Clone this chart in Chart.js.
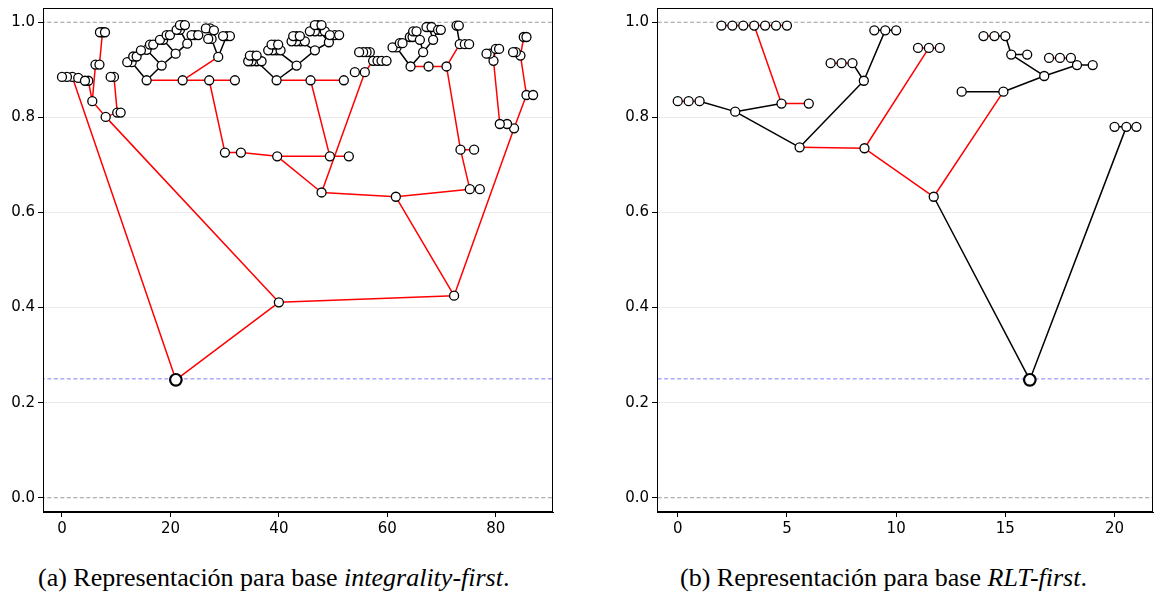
<!DOCTYPE html>
<html><head><meta charset="utf-8">
<script src="https://cdn.jsdelivr.net/npm/chart.js@4.4.1/dist/chart.umd.min.js"></script>
<style>
html,body{margin:0;padding:0;background:#fff;width:1161px;height:594px;overflow:hidden;position:relative}
canvas{position:absolute;top:0}
#ca{left:0}
#cb{left:614px}
.cap{position:absolute;top:563px;line-height:30px;font-family:"Liberation Serif","DejaVu Serif",serif;font-size:26px;color:#000;white-space:nowrap}
</style></head><body>
<canvas id="ca" width="580" height="548"></canvas>
<canvas id="cb" width="547" height="548"></canvas>
<div class="cap" id="capa" style="left:38px">(a) Representación para base <i>integrality-first</i>.</div>
<div class="cap" id="capb" style="left:680px">(b) Representación para base <i>RLT-first</i>.</div>
<script>
// ---------- (a) integrality-first tree ----------
// node x position, node bound (y), parent node index, branch kind of the edge to the parent ('r' red / 'k' black)
const leftX = [21.0,40.0,1.9,0.92,0.0,3.0,8.06,5.59,4.85,4.24,6.18,6.91,7.47,7.0,7.93,10.19,10.82,9.59,8.98,
  72.31,61.57,83.37,47.87,75.21,77.05,73.49,76.0,70.91,67.6,64.28,73.36,74.29,75.08,72.76,73.18,
  61.7,60.96,62.3,62.8,64.15,64.65,64.76,65.38,66.6,68.44,66.0,67.7,67.22,68.15,69.36,69.86,
  82.08,80.74,79.58,78.89,78.29,80.0,80.61,85.66,86.88,84.55,83.69,83.19,85.16,85.66,
  39.69,33.0,30.05,27.15,22.25,31.89,15.61,28.81,49.4,52.9,45.84,39.58,51.98,
  55.85,54.01,57.38,58.19,58.93,59.85,56.77,56.17,55.54,54.8,
  18.38,12.85,12.04,13.14,13.77,15.61,16.22,16.83,14.56,20.96,18.67,18.06,19.3,19.91,23.1,21.75,21.14,22.25,21.75,22.67,24.52,23.9,25.13,
  27.59,26.97,27.28,26.54,28.02,30.36,30.97,29.7,
  35.89,34.97,34.34,36.81,35.26,34.65,35.89,43.26,39.58,38.84,38.03,40.31,39.26,38.65,39.87,
  46.64,44.0,43.2,42.34,44.79,43.26,42.64,43.87,49.22,47.56,46.64,45.71,48.48,47.24,46.64,47.86,50.32,49.4,51.11];
const leftY = [0.248,0.411,0.885,0.885,0.885,0.883,0.801,0.834,0.877,0.877,0.911,0.911,0.979,0.979,0.979,0.810,0.810,0.885,0.885,
  0.425,0.633,0.777,0.642,0.649,0.649,0.732,0.732,0.907,0.907,0.907,0.954,0.954,0.954,0.993,0.993,
  0.947,0.947,0.956,0.956,0.969,0.969,0.981,0.981,0.937,0.963,0.963,0.990,0.990,0.990,0.984,0.984,
  0.786,0.786,0.919,0.934,0.934,0.944,0.944,0.847,0.847,0.930,0.937,0.937,0.969,0.969,
  0.718,0.726,0.726,0.878,0.878,0.878,0.878,0.927,0.718,0.718,0.878,0.878,0.878,
  0.895,0.895,0.919,0.919,0.919,0.919,0.937,0.937,0.937,0.937,
  0.909,0.916,0.916,0.928,0.928,0.942,0.953,0.953,0.941,0.934,0.963,0.963,0.973,0.973,0.955,0.984,0.984,0.994,0.994,0.994,0.973,0.973,0.973,
  0.965,0.965,0.987,0.987,0.983,0.971,0.971,0.971,
  0.918,0.918,0.918,0.918,0.930,0.930,0.930,0.909,0.941,0.941,0.941,0.941,0.953,0.953,0.953,
  0.941,0.960,0.960,0.960,0.960,0.971,0.971,0.971,0.958,0.981,0.981,0.981,0.981,0.994,0.994,0.994,0.973,0.973,0.973];
const leftParent = [-1,0,0,2,3,2,1,6,7,8,7,10,11,12,12,6,15,15,17,
  1,19,19,20,20,23,23,25,25,27,28,27,30,31,30,33,
  29,35,35,37,35,39,39,41,29,43,43,44,46,46,44,49,
  21,51,52,53,54,53,56,21,58,58,60,61,60,63,
  22,65,66,67,68,68,69,69,65,73,73,75,75,
  22,78,78,80,81,82,80,84,85,86,
  71,71,89,89,91,88,93,94,93,88,97,98,98,100,97,102,103,103,105,105,102,108,108,
  72,111,111,113,113,72,116,116,
  76,119,120,119,119,123,123,76,126,127,128,127,127,131,131,
  126,134,135,136,135,135,139,139,134,142,143,144,143,143,147,147,142,150,150];
const leftBranch = ['','r','r','r','r','r','r','r','r','r','r','r','r','r','r','r','r','r','r',
  'r','r','r','r','r','r','r','r','r','r','r','r','r','r','k','k',
  'k','k','k','k','k','k','k','k','k','k','k','k','k','k','k','k',
  'r','r','r','r','r','r','r','r','r','r','r','r','r','r',
  'r','r','r','r','r','r','r','r','r','r','r','r','r',
  'r','r','r','r','r','r','r','r','r','r',
  'k','k','k','k','k','k','k','k','k','k','k','k','k','k','k','k','k','k','k','k','k','k','k',
  'k','k','k','k','k','k','k','k',
  'k','k','k','k','k','k','k','k','k','k','k','k','k','k','k',
  'k','k','k','k','k','k','k','k','k','k','k','k','k','k','k','k','k','k','k'];

// ---------- (b) RLT-first tree ----------
const rightX = [16.12,11.72,20.54,20.0,21.0,8.55,14.91,5.58,11.5,11.0,12.0,2.63,8.52,1.0,0.5,0.0,4.75,6.0,
  3.5,3.0,2.5,2.0,4.0,4.5,5.0,8.0,7.5,7.0,9.5,9.0,10.0,13.0,16.78,18.28,19.0,18.0,17.5,17.0,15.27,16.0,15.0,14.5,14.0];
const rightY = [0.248,0.633,0.780,0.780,0.780,0.735,0.854,0.737,0.946,0.946,0.946,0.812,0.877,0.834,0.834,0.834,0.829,0.829,
  0.993,0.993,0.993,0.993,0.993,0.993,0.993,0.914,0.914,0.914,0.983,0.983,0.983,0.854,0.887,0.910,0.910,0.925,0.925,0.925,0.932,0.932,0.971,0.971,0.971];
const rightParent = [-1,0,0,2,2,1,1,5,5,8,8,7,7,11,13,14,11,16,
  16,18,19,20,18,22,23,12,25,26,12,28,28,6,6,32,33,33,35,36,32,38,38,40,41];
const rightBranch = ['','k','k','k','k','r','r','r','r','r','r','k','k','k','r','r','k','r',
  'r','r','r','r','r','r','r','k','r','r','k','k','k','k','k','k','k','k','r','r','k','k','k','k','r'];

// reference levels
const refLevels = [0.0, 1.0];
const boundLevel = 0.25;
const leftXTickStep = 20, rightXTickStep = 5;

function edges(X, Y, P, B, kind) {
  const out = [];
  for (let i = 0; i < X.length; i++) {
    if (P[i] >= 0 && B[i] === kind) {
      out.push({x: X[P[i]], y: Y[P[i]]}, {x: X[i], y: Y[i]}, {x: X[i], y: null});
    }
  }
  return out;
}
function hline(v) { return [{x: -1000, y: v}, {x: 1000, y: v}]; }

const frame = {
  id: 'frame',
  afterDatasetsDraw(chart) {
    const {ctx, chartArea: a} = chart;
    ctx.save();
    ctx.strokeStyle = '#000';
    ctx.lineWidth = 1;
    ctx.strokeRect(Math.round(a.left) + 0.5, Math.round(a.top) + 0.5, Math.round(a.right - a.left) - 1, Math.round(a.bottom - a.top) - 1);
    ctx.restore();
  }
};

function makeChart(id, X, Y, P, B, xmin, xmax, xstep, padRight) {
  const nodes = [], root = [];
  for (let i = 0; i < X.length; i++) (P[i] < 0 ? root : nodes).push({x: X[i], y: Y[i]});
  const tickFont = {family: 'DejaVu Sans', size: 15};
  const ds = [
    {data: nodes, showLine: false, pointRadius: 4.5, pointBorderWidth: 1.3, pointBackgroundColor: '#fff', pointBorderColor: '#000', order: 0},
    {data: root, showLine: false, pointRadius: 5.8, pointBorderWidth: 2.2, pointBackgroundColor: '#fff', pointBorderColor: '#000', order: 0},
    {data: edges(X, Y, P, B, 'r'), showLine: true, spanGaps: false, borderColor: '#ff0000', borderWidth: 1.5, pointRadius: 0, order: 2},
    {data: edges(X, Y, P, B, 'k'), showLine: true, spanGaps: false, borderColor: '#000000', borderWidth: 1.5, pointRadius: 0, order: 2}
  ];
  refLevels.forEach(v => ds.push({data: hline(v), showLine: true, borderColor: 'rgba(120,120,120,0.75)', borderWidth: 1, borderDash: [4, 2.5], pointRadius: 0, order: 3}));
  ds.push({data: hline(boundLevel), showLine: true, borderColor: 'rgba(0,0,255,0.5)', borderWidth: 1, borderDash: [4, 2.5], pointRadius: 0, order: 3});
  return new Chart(document.getElementById(id), {
    type: 'scatter',
    data: {datasets: ds},
    options: {
      responsive: false, animation: false, devicePixelRatio: 1,
      layout: {padding: {top: 4, right: padRight, left: 0, bottom: 0}},
      plugins: {legend: {display: false}, tooltip: {enabled: false}},
      elements: {line: {tension: 0}},
      scales: {
        x: {
          type: 'linear', min: xmin, max: xmax,
          afterFit(s) { s.height = 36; s.paddingLeft = 0; s.paddingRight = 0; s.paddingTop = 0; s.paddingBottom = 0; },
          ticks: {stepSize: xstep, includeBounds: false, color: '#000', font: tickFont, padding: 3, maxRotation: 0, autoSkip: false, callback: v => String(v)},
          grid: {drawOnChartArea: false, tickLength: 5, tickColor: '#000'},
          border: {color: '#000', width: 1}
        },
        y: {
          type: 'linear', min: -0.03, max: 1.03,
          afterFit(s) { s.width = 43; s.paddingTop = 0; s.paddingBottom = 0; s.paddingLeft = 0; s.paddingRight = 0; },
          ticks: {stepSize: 0.2, includeBounds: false, color: '#000', font: tickFont, padding: 3, callback: v => v.toFixed(1)},
          grid: {
            color: c => (c.tick && (Math.abs(c.tick.value) < 1e-9 || Math.abs(c.tick.value - 1) < 1e-9)) ? 'rgba(0,0,0,0)' : '#ebebeb',
            lineWidth: 1, tickLength: 5, tickColor: '#000'
          },
          border: {color: '#000', width: 1}
        }
      }
    },
    plugins: [frame]
  });
}

makeChart('ca', leftX, leftY, leftParent, leftBranch, -3.5, 90.55, leftXTickStep, 27);
makeChart('cb', rightX, rightY, rightParent, rightBranch, -0.95, 21.76, rightXTickStep, 1);
</script>
</body></html>
